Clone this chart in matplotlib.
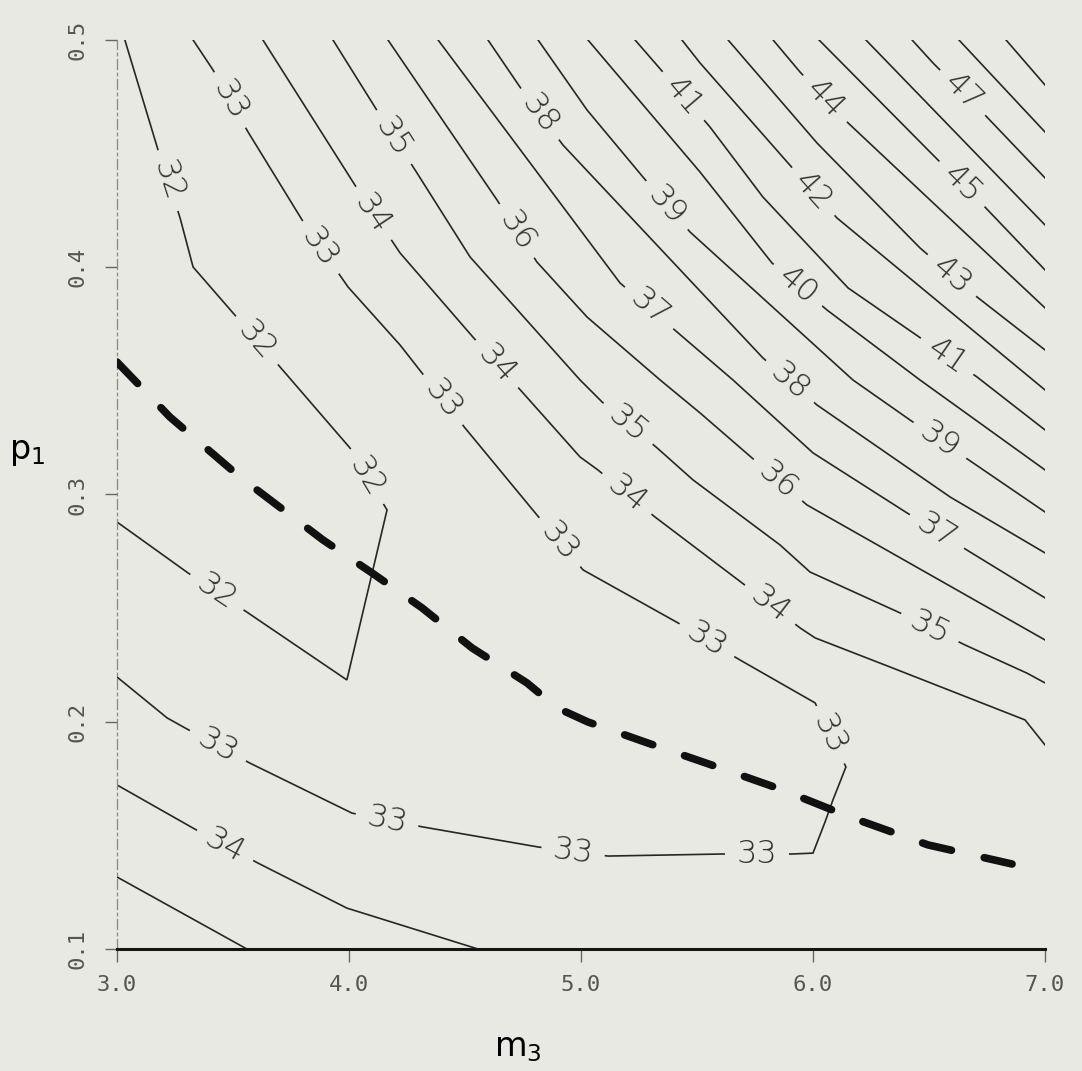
import numpy as np
import matplotlib.pyplot as plt

# contour polylines, as (m3, p1) pairs
c32_m3 = [3.034, 3.177, 3.272, 3.328, 3.500, 3.703, 4.004, 4.164, 4.103, 3.991, 3.565, 3.306, 3.0]
c32_p1 = [0.5, 0.4516, 0.4217, 0.4001, 0.3799, 0.3561, 0.3205, 0.2932, 0.2668, 0.2184, 0.2479, 0.2655, 0.2879]

c33_m3 = [3.0, 3.216, 3.293, 3.573, 4.013, 4.319, 4.815, 5.116, 5.608, 5.909, 6.000, 6.052, 6.086,
          6.142, 6.009, 5.685, 5.418, 5.009, 4.810, 4.500, 4.220, 3.996, 3.819, 3.565, 3.414, 3.328]
c33_p1 = [0.2197, 0.2017, 0.1973, 0.1818, 0.1598, 0.1537, 0.1449, 0.1409, 0.1418, 0.1418, 0.1422, 0.1559, 0.1656,
          0.1801, 0.2083, 0.2272, 0.2435, 0.2668, 0.2910, 0.3293, 0.3658, 0.3913, 0.4173, 0.4595, 0.4868, 0.5]

c34a_m3 = [3.629, 4.047, 4.220, 4.534, 4.750, 4.996, 5.073, 5.319, 5.694, 5.944, 6.009, 6.332, 6.914, 7.0]
c34a_p1 = [0.5, 0.4327, 0.4063, 0.3693, 0.3447, 0.3165, 0.3108, 0.2901, 0.2611, 0.2413, 0.2369, 0.2241, 0.2008, 0.1898]
c34b_m3 = [3.0, 3.328, 3.608, 3.991, 4.556]
c34b_p1 = [0.1722, 0.1532, 0.1378, 0.1180, 0.1000]

c35a_m3 = [3.931, 4.125, 4.293, 4.522, 4.996, 5.091, 5.328, 5.483, 5.858, 5.987, 6.375, 6.655, 6.922, 7.0]
c35a_p1 = [0.5, 0.4683, 0.4415, 0.4045, 0.3504, 0.3407, 0.3205, 0.3064, 0.2778, 0.2659, 0.2479, 0.2338, 0.2214, 0.2171]
c35b_m3 = [3.0, 3.560]
c35b_p1 = [0.1317, 0.1000]

c36_m3 = [4.168, 4.638, 4.810, 5.026, 5.341, 5.513, 5.737, 5.974, 7.0]
c36_p1 = [0.5, 0.4296, 0.4023, 0.3781, 0.3504, 0.3359, 0.3161, 0.2954, 0.2360]
c37_m3 = [4.384, 5.168, 5.414, 5.655, 6.000, 6.405, 6.677, 7.0]
c37_p1 = [0.5, 0.3931, 0.3715, 0.3504, 0.3183, 0.2919, 0.2747, 0.2545]
c38_m3 = [4.599, 4.737, 4.922, 5.784, 6.017, 6.591, 7.0]
c38_p1 = [0.5, 0.4793, 0.4538, 0.3601, 0.3394, 0.2989, 0.2743]
c39_m3 = [4.815, 5.026, 5.267, 5.470, 6.172, 6.418, 6.690, 7.0]
c39_p1 = [0.5, 0.4692, 0.4397, 0.4155, 0.3504, 0.3328, 0.3139, 0.2923]
c40_m3 = [5.030, 5.513, 5.823, 6.060, 6.461, 7.0]
c40_p1 = [0.5, 0.4419, 0.4019, 0.3812, 0.3504, 0.3108]
c41_m3 = [5.233, 5.353, 5.556, 5.784, 6.151, 6.707, 7.0]
c41_p1 = [0.5, 0.4859, 0.4617, 0.4309, 0.3909, 0.3517, 0.3284]
c42_m3 = [5.435, 5.513, 5.892, 6.103, 7.0]
c42_p1 = [0.5, 0.4899, 0.4459, 0.4217, 0.3460]
c43_m3 = [5.634, 6.017, 6.203, 6.461, 6.707, 7.0]
c43_p1 = [0.5, 0.4547, 0.4353, 0.4085, 0.3869, 0.3636]
c44_m3 = [5.828, 5.944, 6.151, 7.0]
c44_p1 = [0.5, 0.4859, 0.4635, 0.3821]
c45_m3 = [6.026, 6.517, 6.741, 7.0]
c45_p1 = [0.5, 0.4494, 0.4265, 0.3988]
c46_m3 = [6.228, 7.0]
c46_p1 = [0.5, 0.4186]
c47_m3 = [6.427, 6.517, 6.741, 7.0]
c47_p1 = [0.5, 0.4899, 0.4670, 0.4393]
c48_m3 = [6.629, 7.0]
c48_p1 = [0.5, 0.4595]
c49_m3 = [6.832, 7.0]
c49_p1 = [0.5, 0.4802]

# inline contour labels
lab_level = [32, 32, 32, 32,
             33, 33, 33, 33, 33, 33, 33, 33, 33, 33,
             34, 34, 34, 34, 34,
             35, 35, 35, 36, 36, 37, 37, 38, 38, 39, 39,
             40, 41, 41, 42, 43, 44, 45, 47]
lab_m3 = [3.220, 3.603, 4.078, 3.431,
          3.435, 4.164, 4.966, 5.759, 6.073, 5.543, 4.909, 4.405, 3.875, 3.487,
          4.103, 4.638, 5.198, 5.815, 3.466,
          4.190, 5.203, 6.504, 4.724, 5.849, 5.297, 6.534, 4.823, 5.901, 5.371, 6.547,
          5.935, 5.440, 6.578, 6.000, 6.599, 6.052, 6.642, 6.647]
lab_p1 = [0.4381, 0.3678, 0.3079, 0.2570,
          0.1894, 0.1568, 0.1429, 0.1418, 0.1942, 0.2359, 0.2790, 0.3417, 0.4085, 0.4736,
          0.4235, 0.3575, 0.3003, 0.2515, 0.1456,
          0.4570, 0.3311, 0.2414, 0.4160, 0.3063, 0.3825, 0.2837, 0.4674, 0.3497, 0.4273, 0.3238,
          0.3921, 0.4752, 0.3608, 0.4332, 0.3964, 0.4742, 0.4366, 0.4770]

# heavy dashed curve
opt_m3 = [3.0, 3.228, 3.530, 3.888, 4.099, 4.315, 4.530, 4.767, 4.897, 5.030, 5.289, 5.599, 5.858,
          6.159, 6.496, 6.858]
opt_p1 = [0.3583, 0.3341, 0.3077, 0.2800, 0.2655, 0.2501, 0.2325, 0.2171, 0.2061, 0.1999, 0.1906, 0.1797,
          0.1704, 0.1581, 0.1458, 0.1374]

xticks = [3.0, 4.0, 5.0, 6.0, 7.0]
xtick_labels = ['3.0', '4.0', '5.0', '6.0', '7.0']
yticks = [0.1, 0.2, 0.3, 0.4, 0.5]
ytick_labels = ['0.1', '0.2', '0.3', '0.4', '0.5']

contours = [
    (32, c32_m3, c32_p1), (33, c33_m3, c33_p1),
    (34, c34a_m3, c34a_p1), (34, c34b_m3, c34b_p1),
    (35, c35a_m3, c35a_p1), (35, c35b_m3, c35b_p1),
    (36, c36_m3, c36_p1), (37, c37_m3, c37_p1), (38, c38_m3, c38_p1),
    (39, c39_m3, c39_p1), (40, c40_m3, c40_p1), (41, c41_m3, c41_p1),
    (42, c42_m3, c42_p1), (43, c43_m3, c43_p1), (44, c44_m3, c44_p1),
    (45, c45_m3, c45_p1), (46, c46_m3, c46_p1), (47, c47_m3, c47_p1),
    (48, c48_m3, c48_p1), (49, c49_m3, c49_p1),
]

bg = '#e9e9e3'
fig = plt.figure(figsize=(10.82, 10.71), dpi=100, facecolor=bg)
ax = fig.add_axes([0.1081, 0.1139, 0.8577, 0.8488], facecolor=bg)
ax.set_xlim(3.0, 7.0)
ax.set_ylim(0.1, 0.5)

for level, xs, ys in contours:
    ax.plot(xs, ys, color='#262626', lw=1.2, zorder=2, solid_joinstyle='miter')


def label_angle(level, x, y):
    # direction of the nearest contour segment, in screen space
    p = ax.transData.transform((x, y))
    best = None
    for lev, xs, ys in contours:
        if lev != level:
            continue
        pts = ax.transData.transform(np.column_stack([xs, ys]))
        for a, b in zip(pts[:-1], pts[1:]):
            d = b - a
            t = np.clip(np.dot(p - a, d) / np.dot(d, d), 0, 1)
            dist = np.hypot(*(a + t * d - p))
            if best is None or dist < best[0]:
                best = (dist, d)
    ang = np.degrees(np.arctan2(best[1][1], best[1][0]))
    if ang > 90:
        ang -= 180
    elif ang <= -90:
        ang += 180
    return ang


for lev, lx, ly in zip(lab_level, lab_m3, lab_p1):
    ax.text(lx, ly, str(lev), rotation=label_angle(lev, lx, ly), rotation_mode='anchor',
            ha='center', va='center', fontsize=23, color='#333333', fontweight='light',
            bbox=dict(boxstyle='square,pad=0.36', fc=bg, ec='none'), zorder=3)

ax.plot(opt_m3, opt_p1, color='#111111', lw=5.5, dashes=(3.9, 4.4),
        dash_capstyle='round', solid_capstyle='round', zorder=4)

for side in ['top', 'right']:
    ax.spines[side].set_visible(False)
ax.spines['left'].set_linestyle((0, (8, 3, 2, 3)))
ax.spines['left'].set_color('#888888')
ax.spines['left'].set_linewidth(0.9)
ax.spines['bottom'].set_linewidth(2.2)
ax.spines['bottom'].set_color('#151515')

ax.set_xticks(xticks)
ax.set_xticklabels(xtick_labels, family='DejaVu Sans Mono', fontsize=16, color='#555555')
ax.set_yticks(yticks)
ax.set_yticklabels(ytick_labels, family='DejaVu Sans Mono', fontsize=16, color='#555555',
                   rotation=90, va='center')
ax.tick_params(axis='x', direction='out', length=9, width=1, color='#666666', pad=10)
ax.tick_params(axis='y', direction='out', length=9, width=1, color='#666666', pad=12)

fig.text(0.479, 0.022, r'$\mathregular{m_3}$', fontsize=24, ha='center', va='center')
fig.text(0.025, 0.578, r'$\mathregular{p_1}$', fontsize=24, ha='center', va='center')

fig.savefig('out.png', dpi=100, facecolor=bg)
